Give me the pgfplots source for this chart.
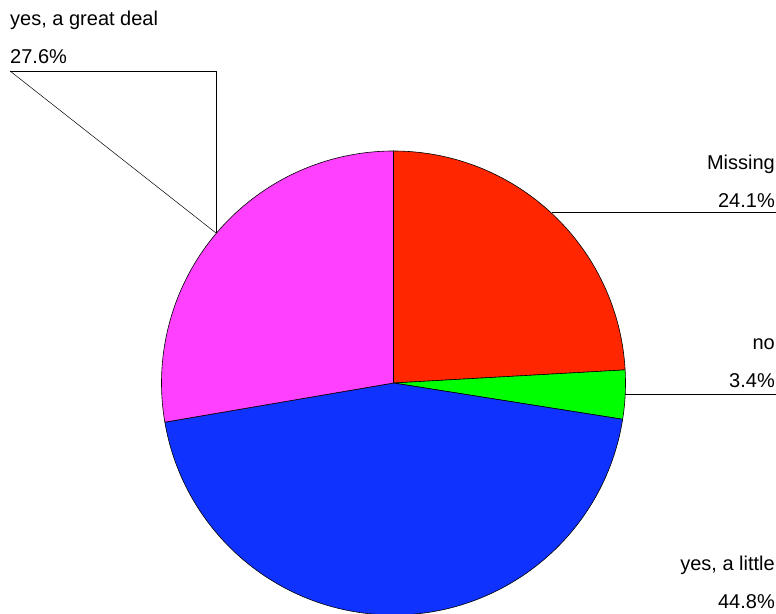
\documentclass[border=0pt]{standalone}
\usepackage{pgfplots}
\pgfplotsset{compat=1.18}
\usepackage{pgfplotstable}
\usepackage{fontspec}
\setmainfont{Liberation Sans}
\definecolor{cMissing}{RGB}{255,38,0}
\definecolor{cNo}{RGB}{0,255,0}
\definecolor{cLittle}{RGB}{16,50,255}
\definecolor{cGreat}{RGB}{255,64,255}
\pgfplotstableread{
label pct
Missing 24.1
no 3.4
{yes, a little} 44.8
{yes, a great deal} 27.6
}\piedata
\begin{document}
\begin{tikzpicture}[lbl/.style={font=\fontsize{20}{24}\selectfont, inner sep=0pt}]
\useasboundingbox (0,0) rectangle (776pt,613pt);
\clip (0,0) rectangle (776pt,613pt);
\pgfplotstablegetelem{0}{pct}\of\piedata \let\pA\pgfplotsretval
\pgfplotstablegetelem{1}{pct}\of\piedata \let\pB\pgfplotsretval
\pgfplotstablegetelem{2}{pct}\of\piedata \let\pC\pgfplotsretval
\pgfplotstablegetelem{3}{pct}\of\piedata \let\pD\pgfplotsretval
\pgfmathsetmacro\aA{90}
\pgfmathsetmacro\aB{\aA-3.6*\pA}
\pgfmathsetmacro\aC{\aB-3.6*\pB}
\pgfmathsetmacro\aD{\aC-3.6*\pC}
\pgfmathsetmacro\aE{-270}
\begin{axis}[x=1pt,y=1pt,xmin=0,xmax=776,ymin=0,ymax=613,
  scale only axis, axis lines=none, clip=false,
  at={(0,0)}, anchor=south west]
\filldraw[fill=cMissing, draw=black, line width=0.6pt] (axis cs:393.5,230) -- ++(\aA:232pt) arc[start angle=\aA, end angle=\aB, radius=232pt] -- cycle;
\filldraw[fill=cNo, draw=black, line width=0.6pt] (axis cs:393.5,230) -- ++(\aB:232pt) arc[start angle=\aB, end angle=\aC, radius=232pt] -- cycle;
\filldraw[fill=cLittle, draw=black, line width=0.6pt] (axis cs:393.5,230) -- ++(\aC:232pt) arc[start angle=\aC, end angle=\aD, radius=232pt] -- cycle;
\filldraw[fill=cGreat, draw=black, line width=0.6pt] (axis cs:393.5,230) -- ++(\aD:232pt) arc[start angle=\aD, end angle=\aE, radius=232pt] -- cycle;
% leader lines
\draw[line width=0.5pt] (axis cs:10,542) -- (axis cs:216,380);
\draw[line width=0.8pt] (axis cs:10,542) -- (axis cs:216,542) -- (axis cs:216,380);
\draw[line width=0.8pt] (axis cs:552,401) -- (axis cs:776,401);
\draw[line width=0.8pt] (axis cs:625,219) -- (axis cs:776,219);
% labels
\node[lbl, anchor=base west] at (axis cs:10,587) {yes, a great deal};
\node[lbl, anchor=base west] at (axis cs:10,549) {27.6\%};
\node[lbl, anchor=base east] at (axis cs:775,443) {Missing};
\node[lbl, anchor=base east] at (axis cs:775,405) {24.1\%};
\node[lbl, anchor=base east] at (axis cs:775,263) {no};
\node[lbl, anchor=base east] at (axis cs:775,225) {3.4\%};
\node[lbl, anchor=base east] at (axis cs:775,43) {yes, a little};
\node[lbl, anchor=base east] at (axis cs:775,5) {44.8\%};
\end{axis}
\end{tikzpicture}
\end{document}
